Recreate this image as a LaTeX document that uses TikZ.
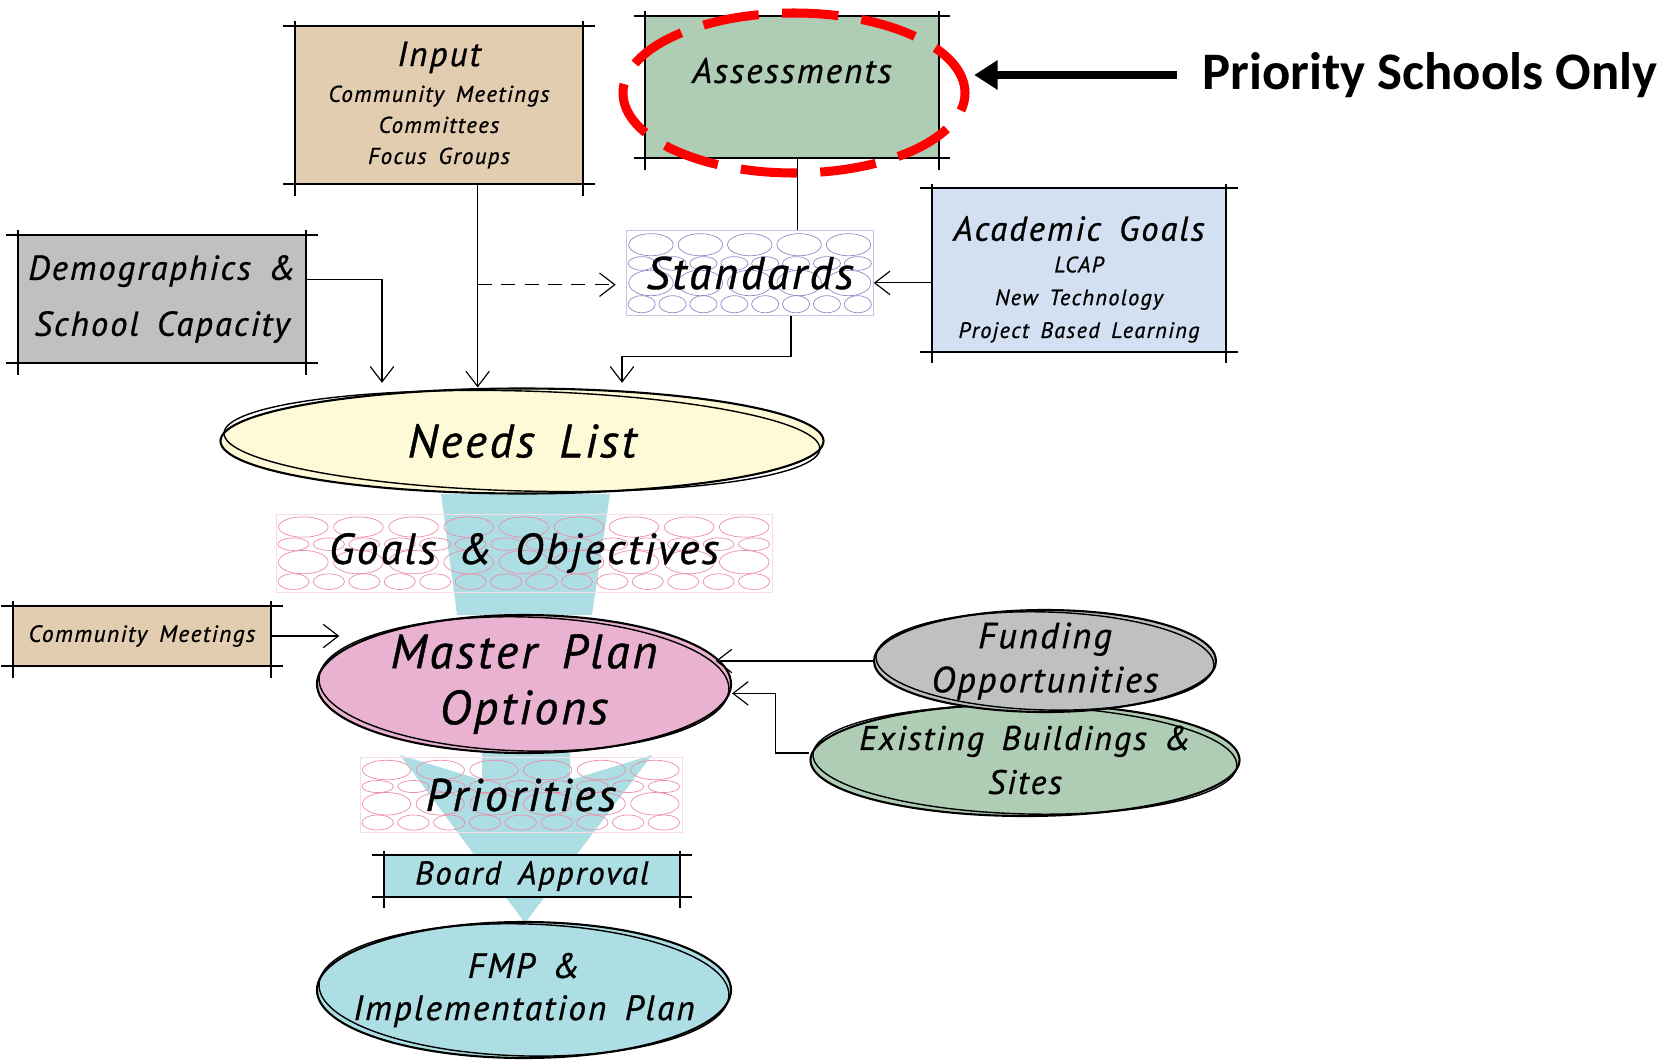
\documentclass[tikz,border=0pt]{standalone}
\usepackage{fontspec}
\setmainfont{PT Sans}[LetterSpace=6, WordSpace=1.6, FakeBold=0.8]
\newfontfamily\boldsans{Carlito}
\usetikzlibrary{positioning, calc, arrows.meta, shapes.geometric}
\definecolor{boxtan}{HTML}{E2CDB0}
\definecolor{boxsage}{HTML}{AFCDB5}
\definecolor{boxgrey}{HTML}{BFC0C2}
\definecolor{boxblue}{HTML}{D3E0F2}
\definecolor{blobcream}{HTML}{FEFAD8}
\definecolor{blobpink}{HTML}{E8B2D0}
\definecolor{flowcyan}{HTML}{ADDEE4}
\definecolor{lav}{HTML}{8C8CCB}
\definecolor{rosy}{HTML}{EC8CAB}
\newcommand{\setfs}[2]{\fontsize{#1}{#2}\selectfont}
\tikzset{
    box/.style={rectangle, inner sep=0pt},
    blob/.style={ellipse, draw, line width=1.8pt, inner xsep=-80pt, inner ysep=-30pt},
    bubblebox/.style={rectangle, draw, line width=0.4pt, inner sep=0pt},
    frame/.style={line width=2pt},
    conn/.style={-{Straight Barb[length=13pt,width=20pt]}, line width=1pt},
    bigarrow/.style={-{Triangle[length=20pt,width=24pt]}, line width=7pt},
    flow/.style={fill=flowcyan}
}
% overshooting sketch frame round a box node
\newcommand{\sketchframe}[1]{%
    \draw[frame] ([xshift=-10pt]#1.north west) -- ([xshift=10pt]#1.north east);
    \draw[frame] ([xshift=-10pt]#1.south west) -- ([xshift=10pt]#1.south east);
    \draw[frame] ([yshift=4pt]#1.north west) -- ([yshift=-10pt]#1.south west);
    \draw[frame] ([yshift=4pt]#1.north east) -- ([yshift=-10pt]#1.south east);}
% second pencil stroke round a blob
\newcommand{\sketchring}[3]{%
    \draw[line width=1.2pt, rotate around={-1.5:(#1.center)}] (#1.center) ellipse [x radius=#2, y radius=#3];}
% stone pattern: node, colour, width, height, big count, small count
\newcommand{\bubbles}[6]{%
    \begin{scope}[shift={(#1.north west)}, draw=#2, line width=0.6pt]
        \foreach \i in {1,...,#5}{
            \draw ({(\i-0.5)*#3/#5}, {0.17*#4}) ellipse [x radius={0.45*#3/#5}, y radius={0.13*#4}];
            \draw ({(\i-0.5)*#3/#5}, {0.62*#4}) ellipse [x radius={0.45*#3/#5}, y radius={0.15*#4}];
        }
        \foreach \i in {1,...,#6}{
            \draw ({(\i-0.5)*#3/#6}, {0.39*#4}) ellipse [x radius={0.44*#3/#6}, y radius={0.08*#4}];
            \draw ({(\i-0.5)*#3/#6}, {0.87*#4}) ellipse [x radius={0.44*#3/#6}, y radius={0.1*#4}];
        }
    \end{scope}}

\begin{document}
\begin{tikzpicture}[x=0.03cm, y=-0.03cm]
    \useasboundingbox (0,0) rectangle (1672,1061);
    % flow behind everything
    \fill[flow] (441,494) -- (610,494) -- (592,615) -- (457,615) -- cycle;
    \fill[flow] (482,700) -- (570,700) -- (570,780) -- (652,755) -- (525,923) -- (400,755) -- (482,780) -- cycle;

    % top row
    \node[box, fill=boxtan, minimum width=8.64cm, minimum height=4.74cm, align=center, font=\itshape\setfs{19.5}{26.5}] (In) at (439,105)
        {{\setfs{30}{30}Input}\\[4pt]Community Meetings\\Committees\\Focus Groups};
    \sketchframe{In}
    \node[box, fill=boxsage, minimum width=8.79cm, minimum height=4.26cm,
        label={[font=\itshape\setfs{30}{30}, yshift=14pt]center:Assessments}] (As) at (792,87) {};
    \sketchframe{As}
    \node[ellipse, draw=red, line width=7.7pt, dash pattern=on 48pt off 20pt, minimum width=10.26cm, minimum height=4.8cm] (R) at (794,93) {};
    \node[font=\boldsans\bfseries\setfs{45}{50}, inner sep=0pt] (PS) at (1430,75) {Priority Schools Only};
    \draw[bigarrow] ([xshift=-22pt]PS.west) -- ([xshift=4pt]PS.west -| R.east);

    \node[box, fill=boxgrey, minimum width=8.64cm, minimum height=3.84cm, align=center, font=\itshape\setfs{29.5}{47.8}] (De) at (162,299)
        {Demographics \&\\School Capacity};
    \sketchframe{De}
    \node[bubblebox, draw=lav!50, minimum width=7.41cm, minimum height=2.55cm] (St) at (750,273) {};
    \bubbles{St}{lav}{247}{85}{5}{8}
    \node[font=\itshape\setfs{39}{40}] (StL) at (St) {Standards};
    \node[box, fill=boxblue, minimum width=8.82cm, minimum height=4.89cm,
        label={[align=center, font=\itshape\setfs{19}{28}, yshift=-8pt]center:{{\setfs{29.5}{32}Academic Goals}\\[-1pt]LCAP\\New Technology\\Project Based Learning}}] (Ac) at (1079,270) {};
    \sketchframe{Ac}

    % middle
    \node[blob, fill=blobcream, minimum width=18.09cm, minimum height=3.15cm, font=\itshape\setfs{40}{40}] (NL) at (522,441) {Needs List};
    \sketchring{NL}{298}{50}
    \node[bubblebox, draw=rosy!30, minimum width=14.88cm, minimum height=2.34cm] (GO) at (524,553) {};
    \bubbles{GO}{rosy}{496}{78}{9}{14}
    \node[font=\itshape\setfs{37}{40}] (GOL) at (GO) {Goals \& Objectives};
    \node[box, fill=boxtan, minimum width=7.74cm, minimum height=1.8cm, font=\itshape\setfs{20}{24}] (CM) at (142,636) {Community Meetings};
    \sketchframe{CM}
    \node[blob, fill=blobpink, minimum width=12.42cm, minimum height=4.14cm, align=center, font=\itshape\setfs{41}{47.8}] (MP) at (524,684)
        {Master Plan\\Options};
    \sketchring{MP}{205}{67}
    \node[blob, fill=boxsage, minimum width=12.87cm, minimum height=3.36cm, align=center, font=\itshape\setfs{29}{37.6}] (EB) at (1025,760)
        {Existing Buildings \&\\Sites};
    \sketchring{EB}{212}{54}
    \node[blob, fill=boxgrey, minimum width=10.26cm, minimum height=3.06cm, align=center, font=\itshape\setfs{31}{37.6}] (FO) at (1045,661)
        {Funding\\Opportunities};
    \sketchring{FO}{169}{49}

    % bottom
    \node[bubblebox, draw=rosy!30, minimum width=9.66cm, minimum height=2.25cm] (Pr) at (521,795) {};
    \bubbles{Pr}{rosy}{322}{75}{6}{9}
    \node[font=\itshape\setfs{39}{40}] (PrL) at (Pr) {Priorities};
    \node[box, fill=flowcyan, minimum width=8.88cm, minimum height=1.23cm, font=\itshape\setfs{28}{28}] (BA) at (532,876) {Board Approval};
    \sketchframe{BA}
    \node[blob, fill=flowcyan, minimum width=12.42cm, minimum height=4.08cm, align=center, font=\itshape\setfs{30}{36}] (FM) at (524,990)
        {FMP \&\\Implementation Plan};
    \sketchring{FM}{205}{66}

    % connectors
    \coordinate (In1) at ([xshift=33pt]In.south);
    \coordinate (DA) at ([xshift=-9pt, yshift=-10pt]St.west);
    \draw[conn] (In1) -- (In1 |- NL.north);
    \draw[conn, dash pattern=on 12pt off 8pt] (In1 |- DA) -- (DA);
    \draw[conn] ([yshift=17pt]De.east) -| ([xshift=-4.2cm, yshift=4pt]NL.north);
    \draw[line width=1pt] ([xshift=5pt]As.south) -- ([xshift=5pt]As.south |- St.north);
    \draw[conn] ([xshift=35pt]St.south) -- ++(0,41) -| ([xshift=3cm, yshift=4pt]NL.north);
    \draw[conn] ([yshift=-11pt]Ac.west) -- ([yshift=-11pt]Ac.west -| St.east);
    \draw[conn] (CM.east) -- ([xshift=20pt]MP.west |- CM.east);
    \draw[conn] (FO.west) -- ([xshift=-14pt]MP.east |- FO.west);
    \draw[conn] ([yshift=6pt]EB.west) -- ++(-34,0) |- ([yshift=-8pt]MP.east);
\end{tikzpicture}
\end{document}
